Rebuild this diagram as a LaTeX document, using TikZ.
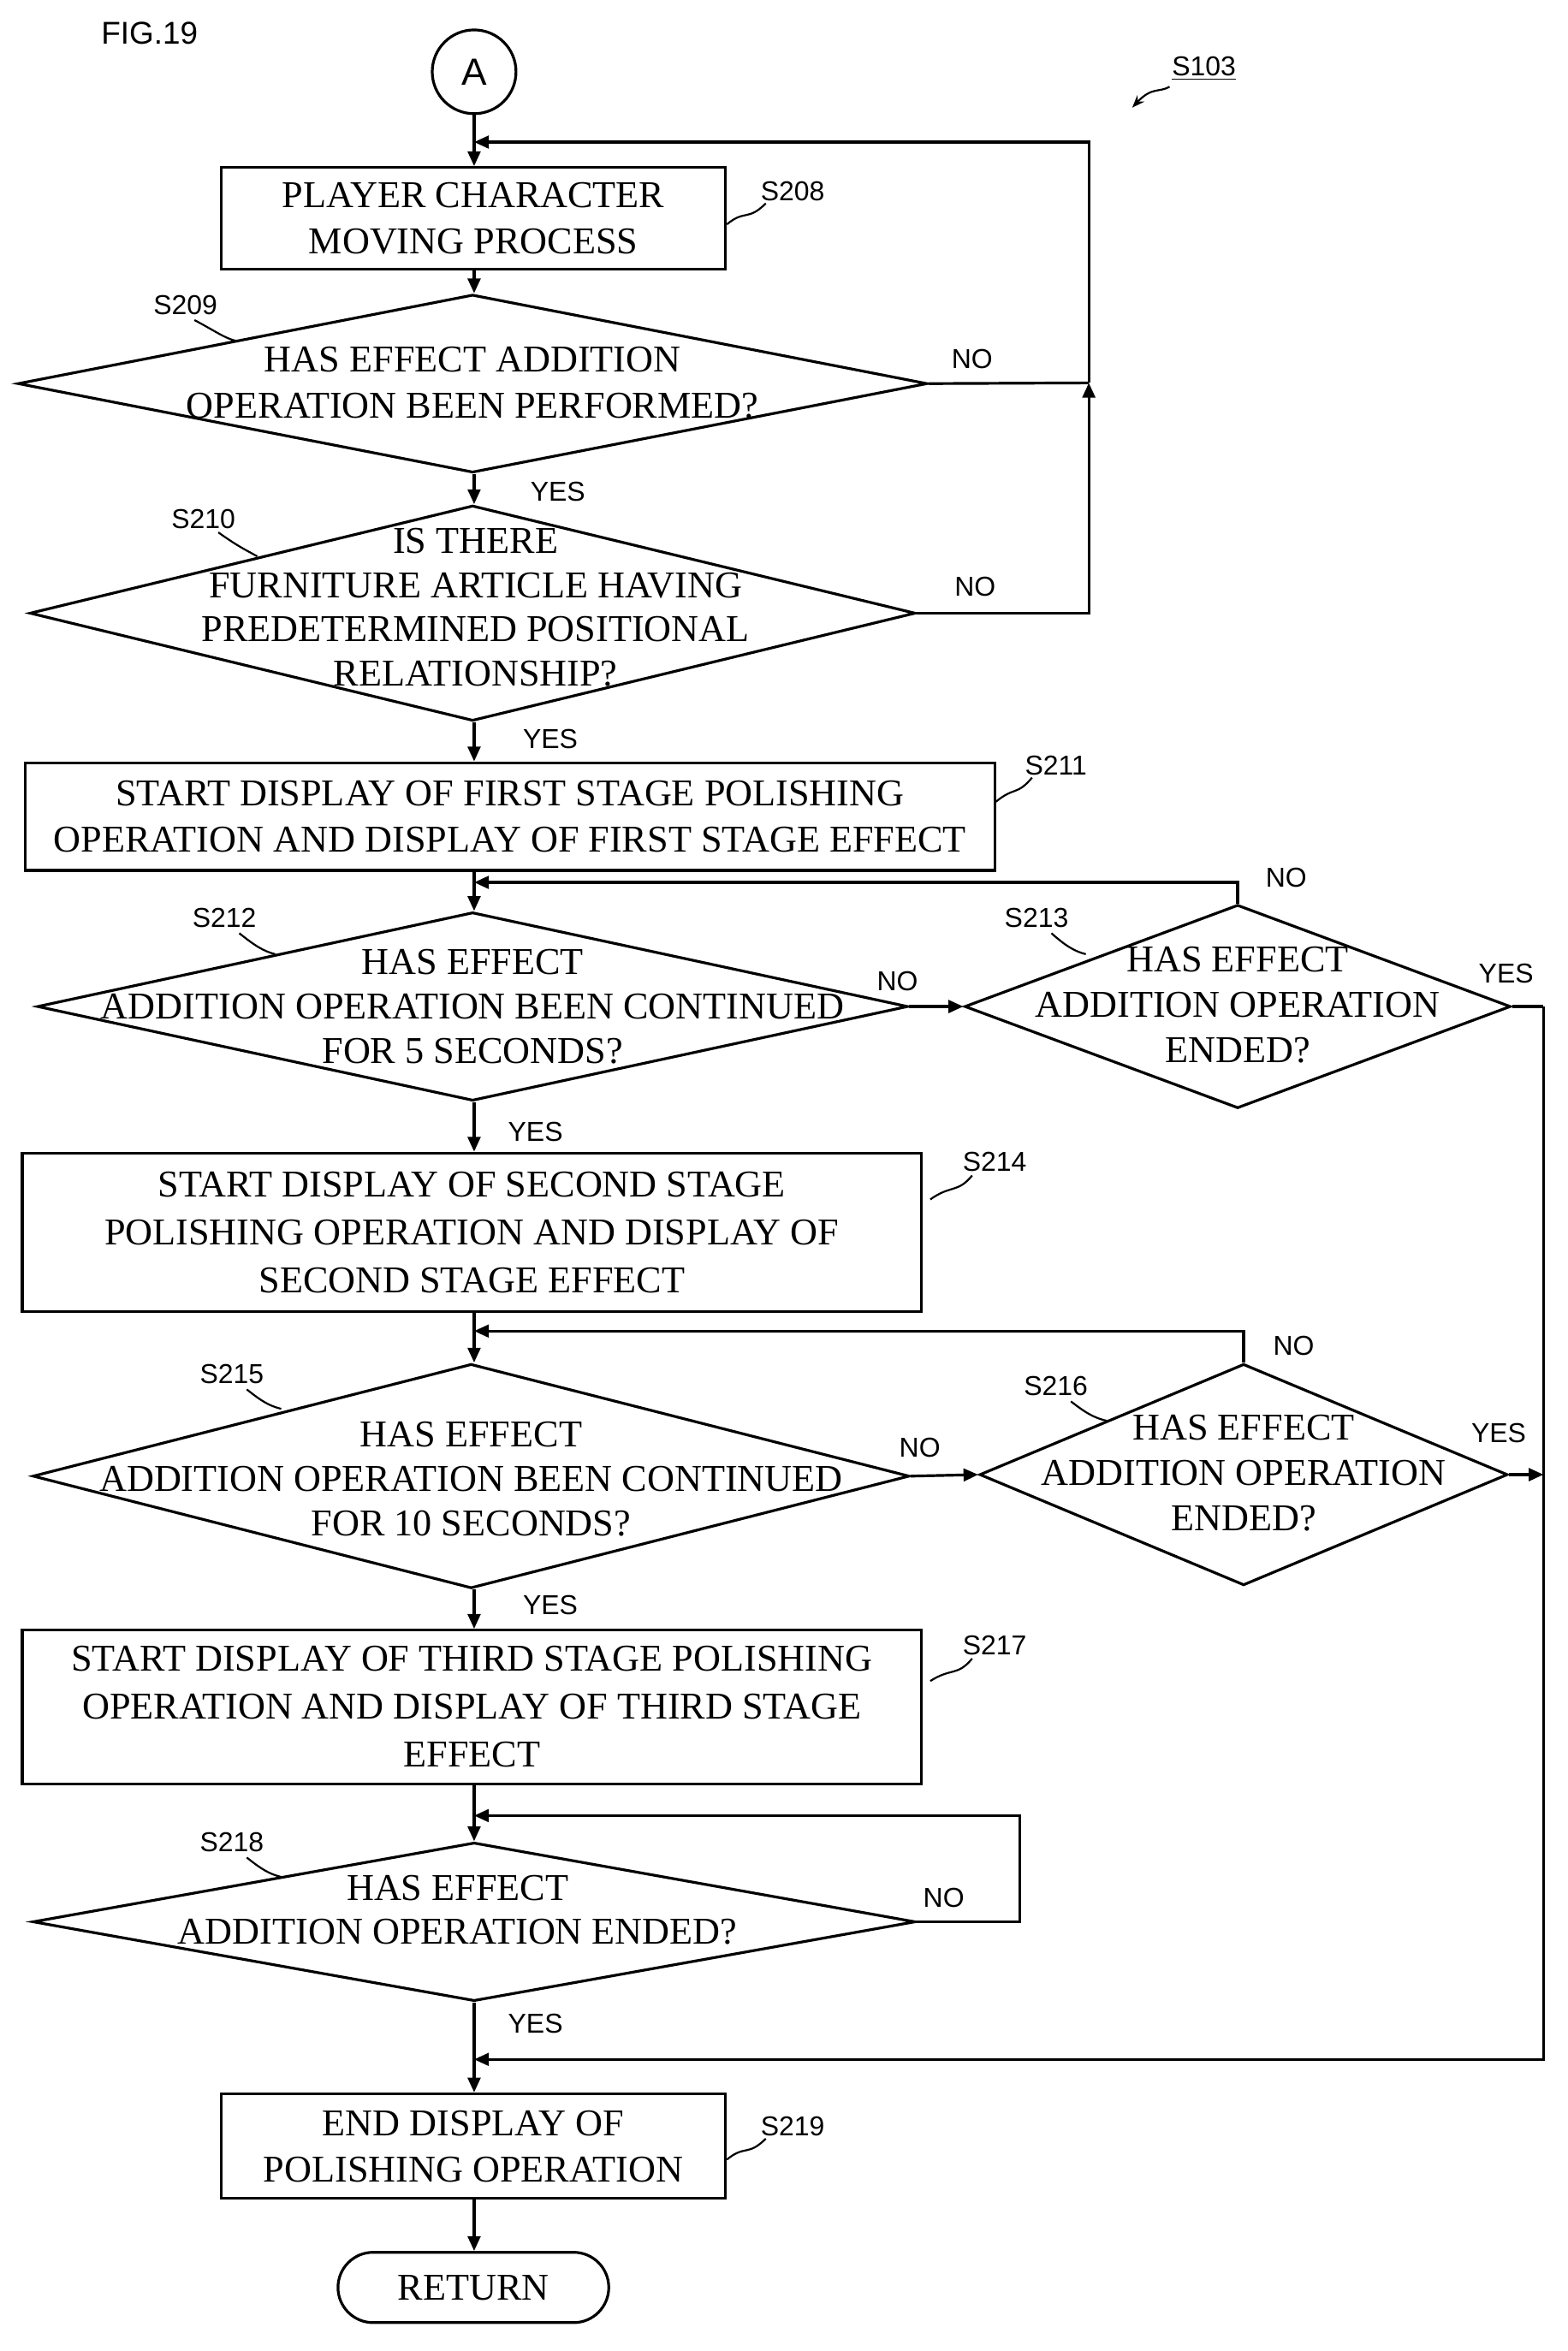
\documentclass[tikz,border=0pt]{standalone}
\usepackage{fontspec}
\setmainfont{Liberation Serif}
\newfontfamily\lab{Liberation Sans}
\usetikzlibrary{shapes.geometric,shapes.misc,arrows.meta}
\begin{document}
\begin{tikzpicture}[x=0.025cm,y=-0.025cm,line width=1.3pt,
  box/.style={draw,rectangle,inner sep=0},
  dia/.style={draw,diamond,inner sep=0},
  txt/.style={align=center,font=\fontsize{18}{22}\selectfont},
  lb/.style={font=\lab\fontsize{13}{15}\selectfont},
  ar/.style={-{Triangle[length=7pt,width=6pt]}},
  lead/.style={line width=0.9pt}]
\useasboundingbox (0,0) rectangle (1048,1572);
\node[lb,font=\lab\fontsize{15}{17}\selectfont] (fig) at (100,22) {FIG.19};
\node[draw,circle,minimum size=1.4cm,inner sep=0,font=\lab\fontsize{18}{20}\selectfont] (A) at (317,48) {A};
\node[lb] (s103) at (805,46) {\underline{S103}};
\draw[lead,-{Stealth[length=6pt]}] (782,58) .. controls (775,62) and (770,58) .. (757,72);

\node[box,minimum width=8.425cm,minimum height=1.7cm] (s208) at (316.5,146) {};
\node[txt] at (316.5,146) {PLAYER CHARACTER\\MOVING PROCESS};
\node[lb] (l208) at (530,128) {S208};
\draw[lead] (512,136) .. controls (500,148) and (498,140) .. (486,150);

\node[dia,minimum width=15.2cm,minimum height=2.975cm] (s209) at (316,256.5) {};
\node[txt] at (316,256) {HAS EFFECT ADDITION\\OPERATION BEEN PERFORMED?};
\node[lb] (l209) at (124,204) {S209};
\draw[lead] (130,214) .. controls (145,222) and (150,226) .. (158,228);

\node[dia,minimum width=14.8cm,minimum height=3.6cm] (s210) at (316,410) {};
\node[txt,font=\fontsize{18}{21}\selectfont] at (318,406) {IS THERE\\FURNITURE ARTICLE HAVING\\PREDETERMINED POSITIONAL\\RELATIONSHIP?};
\node[lb] (l210) at (136,347) {S210};
\draw[lead] (146,356) .. controls (160,366) and (165,368) .. (172,372);

\node[box,minimum width=16.2cm,minimum height=1.8cm] (s211) at (341,546) {};
\node[txt] at (341,546) {START DISPLAY OF FIRST STAGE POLISHING\\OPERATION AND DISPLAY OF FIRST STAGE EFFECT};
\node[lb] (l211) at (706,512) {S211};
\draw[lead] (690,520) .. controls (680,532) and (678,526) .. (666,536);

\node[dia,minimum width=14.55cm,minimum height=3.15cm] (s212) at (316,673) {};
\node[txt,font=\fontsize{18}{21.3}\selectfont] at (316,673) {HAS EFFECT\\ADDITION OPERATION BEEN CONTINUED\\FOR 5 SECONDS?};
\node[lb] (l212) at (150,614) {S212};
\draw[lead] (160,624) .. controls (170,632) and (176,636) .. (184,638);

\node[dia,minimum width=9.125cm,minimum height=3.4cm] (s213) at (827.5,673) {};
\node[txt,font=\fontsize{18}{21.6}\selectfont] at (827.5,672) {HAS EFFECT\\ADDITION OPERATION\\ENDED?};
\node[lb] (l213) at (693,614) {S213};
\draw[lead] (703,624) .. controls (712,632) and (718,636) .. (726,638);

\node[box,minimum width=15.025cm,minimum height=2.65cm] (s214) at (315.5,824) {};
\node[txt,font=\fontsize{18}{22.7}\selectfont] at (315.5,824) {START DISPLAY OF SECOND STAGE\\POLISHING OPERATION AND DISPLAY OF\\SECOND STAGE EFFECT};
\node[lb] (l214) at (665,777) {S214};
\draw[lead] (650,786) .. controls (640,798) and (636,792) .. (622,802);

\node[dia,minimum width=14.65cm,minimum height=3.75cm] (s215) at (315,987) {};
\node[txt,font=\fontsize{18}{21.3}\selectfont] at (315,989) {HAS EFFECT\\ADDITION OPERATION BEEN CONTINUED\\FOR 10 SECONDS?};
\node[lb] (l215) at (155,919) {S215};
\draw[lead] (165,929) .. controls (175,937) and (180,940) .. (188,942);

\node[dia,minimum width=8.825cm,minimum height=3.7cm] (s216) at (831.5,986) {};
\node[txt,font=\fontsize{18}{21.6}\selectfont] at (831.5,985) {HAS EFFECT\\ADDITION OPERATION\\ENDED?};
\node[lb] (l216) at (706,927) {S216};
\draw[lead] (716,937) .. controls (725,944) and (731,948) .. (740,950);

\node[box,minimum width=15.025cm,minimum height=2.575cm] (s217) at (315.5,1141.5) {};
\node[txt,font=\fontsize{18}{22.7}\selectfont] at (315.5,1141) {START DISPLAY OF THIRD STAGE POLISHING\\OPERATION AND DISPLAY OF THIRD STAGE\\EFFECT};
\node[lb] (l217) at (665,1100) {S217};
\draw[lead] (650,1109) .. controls (640,1121) and (636,1115) .. (622,1124);

\node[dia,minimum width=14.75cm,minimum height=2.65cm] (s218) at (317,1285) {};
\node[txt,font=\fontsize{18}{20.6}\selectfont] at (306,1277) {HAS EFFECT\\ADDITION OPERATION ENDED?};
\node[lb] (l218) at (155,1232) {S218};
\draw[lead] (165,1242) .. controls (175,1250) and (180,1253) .. (188,1255);

\node[box,minimum width=8.425cm,minimum height=1.75cm] (s219) at (316.5,1435) {};
\node[txt] at (316.5,1435) {END DISPLAY OF\\POLISHING OPERATION};
\node[lb] (l219) at (530,1422) {S219};
\draw[lead] (512,1430) .. controls (500,1442) and (498,1434) .. (486,1444);

\node[draw,rounded rectangle,minimum width=4.525cm,minimum height=1.175cm,inner sep=0,txt] (ret) at (316.5,1529.5) {RETURN};

\coordinate (m1) at (317,95);
\coordinate (m2) at (317,590);
\coordinate (m3) at (317,890);
\coordinate (m4) at (317,1214);
\coordinate (m5) at (317,1377);
\coordinate (r1) at (728,256);
\coordinate (r2) at (1032,673);
\coordinate (r3) at (1032,986);

\draw (A.south) -- (m1);
\draw[ar] (m1) -- (s208.north -| m1);
\draw[ar] (s208.south -| m1) -- (s209.north -| m1);
\draw[ar] (s209.south -| m1) -- (s210.north -| m1);
\draw[ar] (s210.south -| m1) -- (m1 |- s211.north);
\draw (m1 |- s211.south) -- (m2);
\draw[ar] (m2) -- (s212.north -| m1);
\draw[ar] (s212.south -| m1) -- (s214.north -| m1);
\draw (s214.south -| m1) -- (m3);
\draw[ar] (m3) -- (s215.north -| m1);
\draw[ar] (s215.south -| m1) -- (s217.north -| m1);
\draw (s217.south -| m1) -- (m4);
\draw[ar] (m4) -- (s218.north -| m1);
\draw (s218.south -| m1) -- (m5);
\draw[ar] (m5) -- (s219.north -| m1);
\draw[ar] (s219.south -| m1) -- (ret.north -| m1);

\draw (s209.east) -- (r1);
\draw[ar] (r1) |- (m1);
\draw[ar] (s210.east) -| (r1);
\draw[ar] (s212.east) -- (s213.west);
\draw[ar] (s213.north) |- (m2);
\draw (s213.east) -- (r2);
\draw[ar] (s215.east) -- (s216.west);
\draw[ar] (s216.north) |- (m3);
\draw[ar] (s216.east) -- (r3);
\draw[ar] (r2) |- (m5);
\draw[ar] (s218.east) -- (682,1285) |- (m4);

\node[lb] at (650,240) {NO};
\node[lb] at (373,329) {YES};
\node[lb] at (652,392) {NO};
\node[lb] at (368,494) {YES};
\node[lb] at (600,656) {NO};
\node[lb] at (860,587) {NO};
\node[lb] at (1007,651) {YES};
\node[lb] at (358,757) {YES};
\node[lb] at (615,968) {NO};
\node[lb] at (865,900) {NO};
\node[lb] at (1002,958) {YES};
\node[lb] at (368,1073) {YES};
\node[lb] at (631,1269) {NO};
\node[lb] at (358,1353) {YES};
\end{tikzpicture}
\end{document}
